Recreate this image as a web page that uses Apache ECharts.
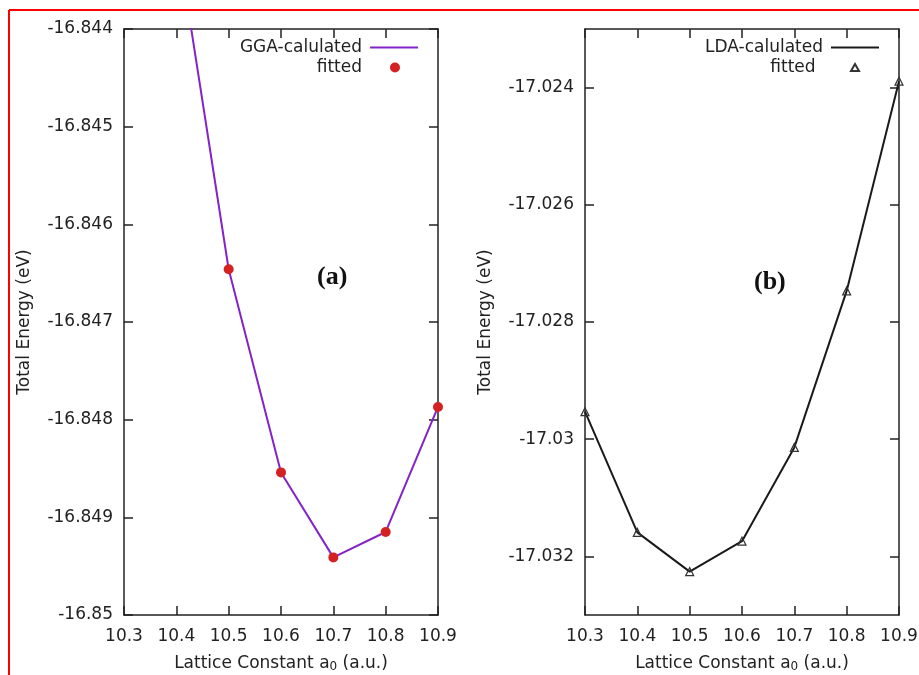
<!DOCTYPE html>
<html>
<head>
<meta charset="utf-8">
<script src="https://cdn.jsdelivr.net/npm/echarts@6/dist/echarts.min.js"></script>
<style>
  html, body { margin: 0; padding: 0; background: #fff; }
</style>
</head>
<body>
<div id="chart" style="width: 919px; height: 675px;"></div>
<script>
// lattice constant a0 (a.u.)
var latticeA = [10.4, 10.5, 10.6, 10.7, 10.8, 10.9];
var ggaEnergy = [-16.84302, -16.84646, -16.84854, -16.84941, -16.84915, -16.84787];
var latticeB = [10.3, 10.4, 10.5, 10.6, 10.7, 10.8, 10.9];
var ldaEnergy = [-17.02953, -17.03159, -17.03226, -17.03174, -17.03014, -17.02747, -17.02389];
var xTicks = [10.3, 10.4, 10.5, 10.6, 10.7, 10.8, 10.9];
var yTicksA = [-16.85, -16.849, -16.848, -16.847, -16.846, -16.845, -16.844];
var yTicksB = [-17.032, -17.03, -17.028, -17.026, -17.024];

function pairs(xs, ys) {
  return xs.map(function (x, i) { return [x, ys[i]]; });
}
function fmt(v) {
  return String(parseFloat(Number(v).toFixed(3)));
}

var font = 'DejaVu Sans';
var textColor = '#222';
var boxColor = '#222';
var fs = 17;

function xAxisFor(gridIndex, mirror) {
  return {
    type: 'value',
    gridIndex: gridIndex,
    position: mirror ? 'top' : 'bottom',
    min: 10.3,
    max: 10.9,
    interval: 0.1,
    name: mirror ? '' : 'Lattice Constant a{sub|0} (a.u.)',
    nameLocation: 'middle',
    nameGap: 39,
    nameTextStyle: {
      fontFamily: font, fontSize: fs, color: textColor,
      rich: { sub: { fontFamily: font, fontSize: 12, color: textColor, verticalAlign: 'bottom', padding: [7, 0, 0, 0] } }
    },
    splitLine: { show: false },
    axisLine: { lineStyle: { color: boxColor, width: 1.5 } },
    axisTick: { inside: true, length: 9, lineStyle: { color: boxColor, width: 1.5 } },
    axisLabel: {
      show: !mirror, margin: 13, fontFamily: font, fontSize: fs, color: textColor,
      formatter: fmt, showMinLabel: true, showMaxLabel: true
    }
  };
}

function yAxisFor(gridIndex, mirror, min, max, ticks) {
  return {
    type: 'value',
    gridIndex: gridIndex,
    position: mirror ? 'right' : 'left',
    min: min,
    max: max,
    name: mirror ? '' : 'Total Energy (eV)',
    nameLocation: 'middle',
    nameGap: 91,
    nameTextStyle: { fontFamily: font, fontSize: fs, color: textColor },
    splitLine: { show: false },
    axisLine: { lineStyle: { color: boxColor, width: 1.5 } },
    axisTick: { inside: true, length: 9, customValues: ticks, lineStyle: { color: boxColor, width: 1.5 } },
    axisLabel: {
      show: !mirror, margin: 11, fontFamily: font, fontSize: fs, color: textColor,
      customValues: ticks, formatter: fmt
    }
  };
}

function legendFor(item, right, top, w, h, gap) {
  return {
    data: [item], right: right, top: top, orient: 'vertical', align: 'right',
    padding: 0, itemWidth: w, itemHeight: h,
    textStyle: { fontFamily: font, fontSize: fs, color: textColor, padding: [0, gap, 0, 0] }
  };
}

var chart = echarts.init(document.getElementById('chart'));
var option = {
  backgroundColor: '#fff',
  animation: false,
  grid: [
    { left: 124, top: 29, width: 314, height: 586, outerBoundsMode: 'none' },
    { left: 585, top: 29, width: 314, height: 586, outerBoundsMode: 'none' }
  ],
  xAxis: [
    xAxisFor(0, false), xAxisFor(0, true),
    xAxisFor(1, false), xAxisFor(1, true)
  ],
  yAxis: [
    yAxisFor(0, false, -16.85, -16.844, yTicksA), yAxisFor(0, true, -16.85, -16.844, yTicksA),
    yAxisFor(1, false, -17.033, -17.023, yTicksB), yAxisFor(1, true, -17.033, -17.023, yTicksB)
  ],
  legend: [
    legendFor({ name: 'GGA-calulated', icon: 'rect' }, 501, 39, 48, 2, 3),
    legendFor({ name: 'fitted', icon: 'circle' }, 519, 59, 10, 10, 23),
    legendFor({ name: 'LDA-calulated', icon: 'rect' }, 40, 39, 48, 2, 3),
    legendFor({ name: 'fitted ', icon: 'triangle' }, 59, 59, 8, 7, 25)
  ],
  graphic: [
    { type: 'line', shape: { x1: 9, y1: 10, x2: 919, y2: 10 }, style: { stroke: '#ff0000', lineWidth: 2 } },
    { type: 'line', shape: { x1: 9, y1: 10, x2: 9, y2: 675 }, style: { stroke: '#ff0000', lineWidth: 2 } },
    { type: 'text', left: 317, top: 264, style: { text: '(a)', font: 'bold 26px "Liberation Serif"', fill: '#111' } },
    { type: 'text', left: 754, top: 269, style: { text: '(b)', font: 'bold 26px "Liberation Serif"', fill: '#111' } }
  ],
  series: [
    {
      name: 'GGA-calulated', type: 'line', xAxisIndex: 0, yAxisIndex: 0,
      data: pairs(latticeA, ggaEnergy), symbol: 'none', clip: true,
      lineStyle: { color: '#8424c8', width: 2 }, itemStyle: { color: '#8424c8' }
    },
    {
      name: 'fitted', type: 'scatter', xAxisIndex: 0, yAxisIndex: 0,
      data: pairs(latticeA, ggaEnergy), symbol: 'circle', symbolSize: 10, clip: true,
      itemStyle: { color: '#d42222', opacity: 1 }, z: 3
    },
    {
      name: 'LDA-calulated', type: 'line', xAxisIndex: 2, yAxisIndex: 2,
      data: pairs(latticeB, ldaEnergy), symbol: 'none',
      lineStyle: { color: '#1a1a1a', width: 2 }, itemStyle: { color: '#1a1a1a' }
    },
    {
      name: 'fitted ', type: 'scatter', xAxisIndex: 2, yAxisIndex: 2,
      data: pairs(latticeB, ldaEnergy), symbol: 'triangle', symbolSize: 8,
      itemStyle: { color: 'rgba(255,255,255,0)', borderColor: '#333', borderWidth: 1.2, opacity: 1 }, z: 3
    }
  ]
};
chart.setOption(option);
</script>
</body>
</html>
